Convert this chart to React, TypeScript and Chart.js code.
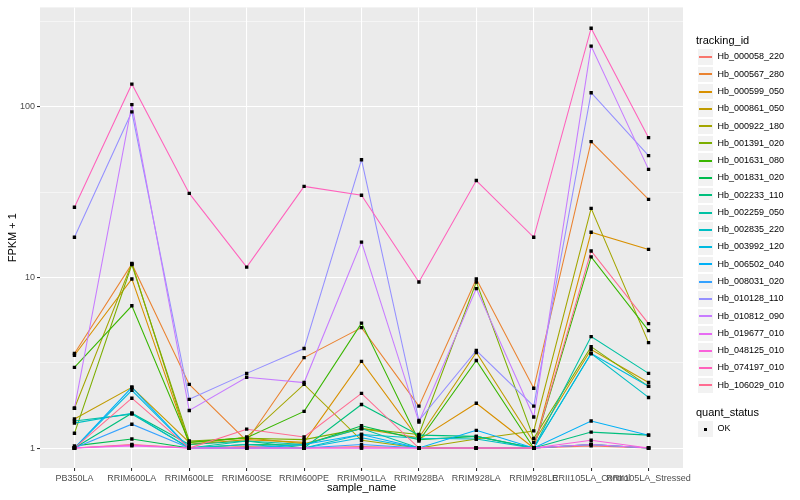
import React, { useEffect, useRef } from "react";
import { Chart, registerables } from "chart.js";

Chart.register(...registerables);

const categories = [
  "PB350LA",
  "RRIM600LA",
  "RRIM600LE",
  "RRIM600SE",
  "RRIM600PE",
  "RRIM901LA",
  "RRIM928BA",
  "RRIM928LA",
  "RRIM928LE",
  "RRII105LA_Control",
  "RRII105LA_Stressed",
];

const trackingIds = [
  "Hb_000058_220",
  "Hb_000567_280",
  "Hb_000599_050",
  "Hb_000861_050",
  "Hb_000922_180",
  "Hb_001391_020",
  "Hb_001631_080",
  "Hb_001831_020",
  "Hb_002233_110",
  "Hb_002259_050",
  "Hb_002835_220",
  "Hb_003992_120",
  "Hb_006502_040",
  "Hb_008031_020",
  "Hb_010128_110",
  "Hb_010812_090",
  "Hb_019677_010",
  "Hb_048125_010",
  "Hb_074197_010",
  "Hb_106029_010",
];

const seriesColors = [
  "#F8766D", "#EA8331", "#D89000", "#C09B00", "#A3A500",
  "#7CAE00", "#39B600", "#00BB4E", "#00BF7D", "#00C1A3",
  "#00BFC4", "#00BAE0", "#00B0F6", "#35A2FF", "#9590FF",
  "#C77CFF", "#E76BF3", "#FA62DB", "#FF62BC", "#FF6C91",
];

// FPKM + 1 values, one array per tracking_id, in category order
const hb000058_220 = [1.0, 1.05, 1.0, 1.02, 1.0, 1.02, 1.0, 1.0, 1.0, 1.03, 1.0];
const hb000567_280 = [3.58, 12.0, 2.36, 1.1, 3.39, 5.08, 1.76, 9.8, 2.24, 62.5, 28.7];
const hb000599_050 = [3.5, 9.8, 1.05, 1.12, 1.08, 3.22, 1.12, 1.83, 1.0, 18.4, 14.6];
const hb000861_050 = [1.48, 2.27, 1.08, 1.15, 1.06, 1.3, 1.15, 3.63, 1.08, 3.78, 2.42];
const hb000922_180 = [1.71, 12.1, 1.05, 1.16, 2.36, 1.11, 1.0, 1.13, 1.26, 25.4, 4.15];
const hb001391_020 = [1.22, 11.9, 1.1, 1.14, 1.12, 1.3, 1.2, 9.4, 1.14, 3.93, 2.3];
const hb001631_080 = [2.97, 6.82, 1.08, 1.15, 1.64, 5.4, 1.1, 3.26, 1.0, 13.2, 4.88];
const hb001831_020 = [1.03, 1.13, 1.0, 1.05, 1.04, 1.35, 1.12, 1.17, 1.0, 1.05, 1.0];
const hb002233_110 = [1.0, 1.6, 1.05, 1.1, 1.0, 1.8, 1.19, 1.17, 1.0, 1.24, 1.19];
const hb002259_050 = [1.44, 1.58, 1.0, 1.1, 1.05, 1.3, 1.0, 1.0, 1.0, 4.5, 2.74];
const hb002835_220 = [1.4, 1.6, 1.0, 1.05, 1.0, 1.2, 1.14, 1.13, 1.0, 3.58, 1.98];
const hb003992_120 = [1.0, 2.18, 1.0, 1.0, 1.0, 1.15, 1.0, 1.0, 1.0, 3.58, 2.3];
const hb006502_040 = [1.0, 2.27, 1.0, 1.0, 1.05, 1.2, 1.0, 1.27, 1.0, 1.44, 1.19];
const hb008031_020 = [1.0, 1.38, 1.0, 1.0, 1.0, 1.05, 1.0, 1.0, 1.0, 1.05, 1.0];
const hb010128_110 = [17.2, 93.5, 1.93, 2.74, 3.83, 49.0, 1.45, 3.73, 1.76, 121, 51.8];
const hb010812_090 = [1.71, 103, 1.66, 2.6, 2.42, 16.1, 1.42, 8.6, 1.52, 227, 43.0];
const hb019677_010 = [1.0, 1.03, 1.0, 1.0, 1.0, 1.0, 1.0, 1.0, 1.0, 1.05, 1.0];
const hb048125_010 = [1.0, 1.04, 1.0, 1.0, 1.0, 1.0, 1.0, 1.0, 1.0, 1.11, 1.0];
const hb074197_010 = [25.8, 136, 31.1, 11.5, 34.2, 30.3, 9.4, 37.0, 17.2, 289, 66.0];
const hb106029_010 = [1.0, 1.96, 1.0, 1.29, 1.16, 2.09, 1.0, 1.0, 1.0, 14.3, 5.36];

const seriesValues = [
  hb000058_220, hb000567_280, hb000599_050, hb000861_050, hb000922_180,
  hb001391_020, hb001631_080, hb001831_020, hb002233_110, hb002259_050,
  hb002835_220, hb003992_120, hb006502_040, hb008031_020, hb010128_110,
  hb010812_090, hb019677_010, hb048125_010, hb074197_010, hb106029_010,
];

const yMajorTicks = [1, 10, 100];
const yMinorTicks = [3.1623, 31.623, 316.23];

const FONT = '"Liberation Sans", Arial, Helvetica, sans-serif';

const panelBg = {
  id: "panelBg",
  beforeDraw(chart: any) {
    const { ctx, chartArea } = chart;
    ctx.save();
    ctx.fillStyle = "#EBEBEB";
    ctx.fillRect(chartArea.left, chartArea.top, chartArea.right - chartArea.left, chartArea.bottom - chartArea.top);
    ctx.restore();
  },
};

function isMajor(v: number) {
  return yMajorTicks.some((m) => Math.abs(m - v) < 1e-6);
}

export default function App() {
  const ref = useRef<HTMLCanvasElement | null>(null);

  useEffect(() => {
    if (!ref.current) return;
    const n = seriesValues.length;
    const lineSets = seriesValues.map((vals, i) => ({
      type: "line" as const,
      label: trackingIds[i],
      data: vals.map((v, j) => ({ x: j, y: v })),
      borderColor: seriesColors[i],
      backgroundColor: seriesColors[i],
      borderWidth: 1.07,
      pointRadius: 0,
      fill: false,
      tension: 0,
      order: 2 * n - i,
    }));
    const pointSets = seriesValues.map((vals, i) => ({
      type: "line" as const,
      label: trackingIds[i] + " OK",
      data: vals.map((v, j) => ({ x: j, y: v })),
      showLine: false,
      pointStyle: "rect" as const,
      pointRadius: 2.4,
      pointBackgroundColor: "#000000",
      pointBorderColor: "#000000",
      pointBorderWidth: 0,
      order: n - i,
    }));

    const chart = new Chart(ref.current, {
      type: "line",
      data: { datasets: [...lineSets, ...pointSets] as any },
      plugins: [panelBg],
      options: {
        animation: false,
        responsive: false,
        layout: { padding: { top: 5, right: 117, bottom: 0, left: 0 } },
        plugins: { legend: { display: false }, tooltip: { enabled: false } },
        scales: {
          x: {
            type: "linear",
            min: -0.6,
            max: categories.length - 1 + 0.6,
            afterBuildTicks: (scale: any) => {
              scale.ticks = categories.map((_, i) => ({ value: i }));
            },
            afterFit: (scale: any) => {
              scale.height = 32;
            },
            ticks: {
              autoSkip: false,
              maxRotation: 0,
              minRotation: 0,
              padding: 2,
              color: "#4D4D4D",
              font: { family: FONT, size: 9 },
              callback: (v: any) => categories[Math.round(Number(v))] ?? "",
            },
            grid: {
              color: "#FFFFFF",
              lineWidth: 1.07,
              tickColor: "#333333",
              tickLength: 3,
              tickWidth: 1.07,
            },
            border: { display: false },
            title: {
              display: true,
              text: "sample_name",
              color: "#000000",
              font: { family: FONT, size: 11 },
              padding: { top: 0, bottom: 5 },
            },
          },
          y: {
            type: "logarithmic",
            min: Math.pow(10, -0.117),
            max: Math.pow(10, 2.583),
            afterBuildTicks: (scale: any) => {
              scale.ticks = [...yMajorTicks, ...yMinorTicks]
                .sort((a, b) => a - b)
                .map((v) => ({ value: v, major: isMajor(v) }));
            },
            afterFit: (scale: any) => {
              scale.width = 40;
            },
            ticks: {
              autoSkip: false,
              padding: 2,
              color: "#4D4D4D",
              font: { family: FONT, size: 9 },
              callback: (v: any) => (isMajor(Number(v)) ? String(Math.round(Number(v))) : ""),
            },
            grid: {
              color: "#FFFFFF",
              lineWidth: (ctx: any) => (ctx.tick && isMajor(ctx.tick.value) ? 1.07 : 0.53),
              tickColor: (ctx: any) => (ctx.tick && isMajor(ctx.tick.value) ? "#333333" : "rgba(0,0,0,0)"),
              tickLength: 3,
              tickWidth: 1.07,
            },
            border: { display: false },
            title: {
              display: true,
              text: "FPKM + 1",
              color: "#000000",
              font: { family: FONT, size: 11 },
              padding: { top: 6, bottom: 0 },
            },
          },
        },
      } as any,
    });
    return () => chart.destroy();
  }, []);

  const keyTop0 = 48.4;
  const keyH = 17.28;
  const keyLeft = 696.5;

  const keyBox = (top: number, k: string) => (
    <div
      key={k}
      style={{
        position: "absolute",
        left: keyLeft,
        top,
        width: keyH,
        height: keyH,
        boxSizing: "border-box",
        border: "1px solid #FFFFFF",
        background: "#F2F2F2",
      }}
    />
  );

  const keyLabel = (top: number, text: string, k: string) => (
    <div
      key={k}
      style={{
        position: "absolute",
        left: keyLeft + 21,
        top,
        height: keyH,
        lineHeight: keyH + "px",
        fontSize: 9,
        color: "#000",
        whiteSpace: "nowrap",
      }}
    >
      {text}
    </div>
  );

  return (
    <div style={{ position: "fixed", left: 0, top: 0, width: 800, height: 500, background: "#FFFFFF", fontFamily: FONT }}>
      <canvas ref={ref} width={800} height={500} style={{ position: "absolute", left: 0, top: 0, width: 800, height: 500 }} />
      <div style={{ position: "absolute", left: 696, top: 34.2, fontSize: 11, lineHeight: "13px", color: "#000", whiteSpace: "nowrap" }}>
        tracking_id
      </div>
      {trackingIds.map((id, i) => keyBox(keyTop0 + i * keyH, "b" + id))}
      {trackingIds.map((id, i) => (
        <div
          key={"l" + id}
          style={{
            position: "absolute",
            left: 699,
            width: 13,
            top: Math.round(keyTop0 + i * keyH + keyH / 2) - 1,
            height: 2,
            background: seriesColors[i],
          }}
        />
      ))}
      {trackingIds.map((id, i) => keyLabel(keyTop0 + i * keyH, id, "t" + id))}
      <div style={{ position: "absolute", left: 696, top: 406.2, fontSize: 11, lineHeight: "13px", color: "#000", whiteSpace: "nowrap" }}>
        quant_status
      </div>
      {keyBox(420.4, "okbox")}
      <div
        style={{
          position: "absolute",
          left: Math.round(keyLeft + keyH / 2 - 1.5),
          top: Math.round(420.4 + keyH / 2 - 1.5),
          width: 3,
          height: 3,
          background: "#000",
        }}
      />
      {keyLabel(420.4, "OK", "oklabel")}
    </div>
  );
}
